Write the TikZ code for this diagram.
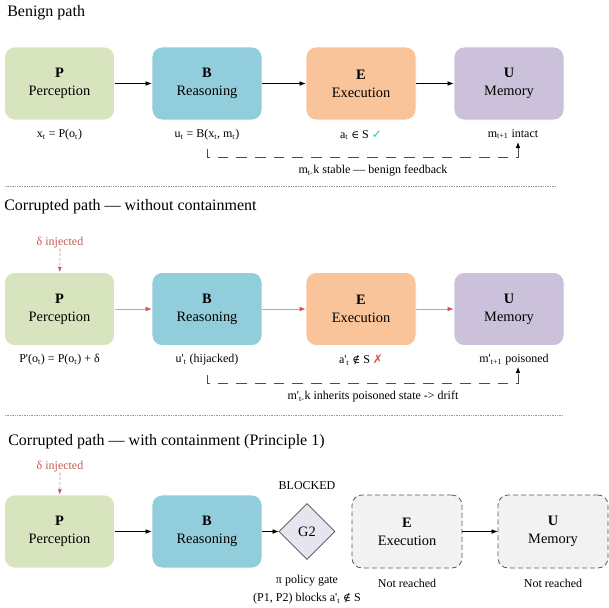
\documentclass[tikz,border=0pt]{standalone}
\usepackage{fontspec}
\setmainfont{Liberation Serif}
\newfontfamily\dejavu{DejaVu Sans}
\newfontfamily\setsym{DejaVu Serif}
\usetikzlibrary{arrows.meta,shapes.geometric,positioning}

\definecolor{percfill}{HTML}{D7E4BD}
\definecolor{reasfill}{HTML}{92CDDC}
\definecolor{execfill}{HTML}{F9C499}
\definecolor{memfill}{HTML}{CCC1DA}
\definecolor{injred}{HTML}{C9574F}
\definecolor{okgreen}{HTML}{2ECC71}
\definecolor{gatefill}{HTML}{E6E4EE}
\definecolor{offfill}{HTML}{F2F2F2}

\newcommand{\prm}{\textquotesingle}
\newcommand{\member}{{\setsym\fontsize{8}{10}\selectfont ∈}}
\newcommand{\notmember}{{\setsym\fontsize{8}{10}\selectfont ∉}}

\tikzset{
	stage/.style={rounded corners=7.5pt, minimum width=82.5pt, minimum height=54.75pt, inner sep=0pt,
		align=center, draw=white, line width=0.6pt, font=\fontsize{10.8}{13.5}\selectfont},
	offstage/.style={stage, fill=offfill, draw=black!65, dash pattern=on 3.75pt off 2.25pt},
	note/.style={font=\fontsize{9}{13.5}\selectfont, align=center, inner sep=0pt},
	rowtitle/.style={anchor=west, inner sep=0pt, font=\fontsize{12}{14}\selectfont},
	flow/.style={-{Latex[length=4.5pt,width=3.5pt]}, line width=0.5pt},
	badflow/.style={line width=0.5pt, draw=injred!60, -{Latex[length=4.5pt,width=3.5pt,color=injred]}},
	feedback/.style={draw=black!70, line width=0.6pt, dash pattern=on 8pt off 6pt, -{Latex[length=4.5pt,width=3.5pt,color=black]}},
	separator/.style={draw=black!40, line width=0.4pt, dash pattern=on 1pt off 0.8pt},
	inject/.style={draw=injred, line width=0.5pt, dash pattern=on 2pt off 1.5pt, -{Latex[length=4pt,width=3pt]}},
}

\begin{document}
\begin{tikzpicture}[x=0.75pt, y=-0.75pt]
	\useasboundingbox (0,0) rectangle (608,608);
	% benign path
	\node[rowtitle] (T1) at (7,13) {Benign path};
	\node[stage, fill=percfill] (P1) at (59.5,83.5) {\textbf{P}\\Perception};
	\node[stage, fill=reasfill] (B1) at (207,83.5) {\textbf{B}\\Reasoning};
	\node[stage, fill=execfill] (E1) at (361,83.5) {\textbf{E}\\Execution};
	\node[stage, fill=memfill] (U1) at (509,83.5) {\textbf{U}\\Memory};
	\node[note] (P1lab) at (59.5,135) {x\textsubscript{t} = P(o\textsubscript{t})};
	\node[note] (B1lab) at (207,135) {u\textsubscript{t} = B(x\textsubscript{t}, m\textsubscript{t})};
	\node[note] (E1lab) at (361,135) {a\textsubscript{t} \member{} S {\dejavu\color{okgreen}✓}};
	\node[note] (U1lab) at (513,134) {m\textsubscript{t+1} intact};
	\node[note] (F1lab) at (373,171) {m\textsubscript{t-}k stable — benign feedback};
	\draw[flow] (P1) -- (B1);
	\draw[flow] (B1) -- (E1);
	\draw[flow] (E1) -- (U1);
	\coordinate (F1a) at (207,149);
	\coordinate (F1b) at (518,142);
	\draw[feedback] (F1a) -- ++(0,8) -| (F1b);
	\draw[separator] (5,186) -- (556,186);

	% corrupted path, no containment
	\node[rowtitle] (T2) at (4,207) {Corrupted path — without containment};
	\node[note, text=injred] (D2) at (60,243) {δ injected};
	\node[stage, fill=percfill] (P2) at (59.5,309) {\textbf{P}\\Perception};
	\node[stage, fill=reasfill] (B2) at (207,309) {\textbf{B}\\Reasoning};
	\node[stage, fill=execfill] (E2) at (361,309) {\textbf{E}\\Execution};
	\node[stage, fill=memfill] (U2) at (509,309) {\textbf{U}\\Memory};
	\node[note] (P2lab) at (59.5,360) {P\prm(o\textsubscript{t}) = P(o\textsubscript{t}) + δ};
	\node[note] (B2lab) at (207,360) {u\prm\textsubscript{t} (hijacked)};
	\node[note] (E2lab) at (361,360) {a\prm\textsubscript{t} \notmember{} S {\dejavu\color{injred}✗}};
	\node[note] (U2lab) at (514,360) {m\prm\textsubscript{t+1} poisoned};
	\node[note] (F2lab) at (373,397) {m\prm\textsubscript{t-}k inherits poisoned state -> drift};
	\draw[inject] (D2) -- (P2);
	\draw[badflow] (P2) -- (B2);
	\draw[badflow] (B2) -- (E2);
	\draw[badflow] (E2) -- (U2);
	\coordinate (F2a) at (207,375);
	\coordinate (F2b) at (518,367);
	\draw[feedback] (F2a) -- ++(0,8) -| (F2b);
	\draw[separator] (5,415) -- (563,415);

	% corrupted path, with containment
	\node[rowtitle] (T3) at (8,442) {Corrupted path — with containment (Principle 1)};
	\node[note, text=injred] (D3) at (60,467) {δ injected};
	\node[stage, fill=percfill] (P3) at (59.5,531.5) {\textbf{P}\\Perception};
	\node[stage, fill=reasfill] (B3) at (207,531.5) {\textbf{B}\\Reasoning};
	\node[diamond, draw=black!70, fill=gatefill, line width=0.5pt, minimum width=42pt, minimum height=42pt,
		inner sep=0pt, font=\fontsize{10.8}{13.5}\selectfont] (G3) at (307,531.5) {G2};
	\node[offstage] (E3) at (407,531.5) {\textbf{E}\\Execution};
	\node[offstage] (U3) at (553,531.5) {\textbf{U}\\Memory};
	\node[note] (G3top) at (307,486) {BLOCKED};
	\node[note] (G3lab) at (307,590) {π policy gate\\(P1, P2) blocks a\prm\textsubscript{t} \notmember{} S};
	\node[note] (E3lab) at (407,583) {Not reached};
	\node[note] (U3lab) at (553,583) {Not reached};
	\draw[inject] (D3) -- (P3);
	\draw[flow] (P3) -- (B3);
	\draw[flow] (B3) -- (G3);
	\draw[flow] (E3) -- (U3);
\end{tikzpicture}
\end{document}
